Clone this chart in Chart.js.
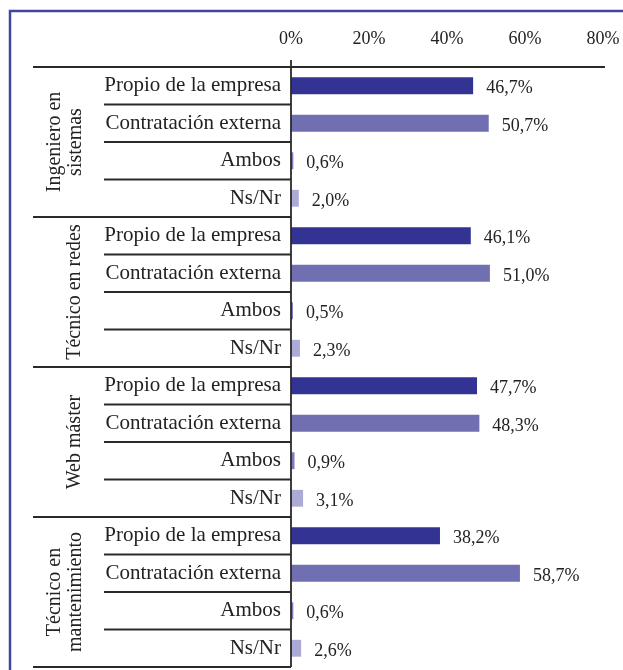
<!DOCTYPE html>
<html>
<head>
<meta charset="utf-8">
<script src="https://cdn.jsdelivr.net/npm/chart.js@4.4.1/dist/chart.umd.min.js"></script>
<style>
  html, body { margin: 0; padding: 0; background: #ffffff; }
  #wrap { position: relative; width: 623px; height: 670px; }
</style>
</head>
<body>
<div id="wrap"><canvas id="c" width="623" height="670"></canvas></div>
<script>
// ---- Data ----
const groups = [["Ingeniero en", "sistemas"], ["Técnico en redes"], ["Web máster"], ["Técnico en", "mantenimiento"]];
const subCategories = ["Propio de la empresa", "Contratación externa", "Ambos", "Ns/Nr"];
const propio = [46.7, 46.1, 47.7, 38.2];
const externa = [50.7, 51.0, 48.3, 58.7];
const ambos = [0.6, 0.5, 0.9, 0.6];
const nsnr = [2.0, 2.3, 3.1, 2.6];
const xTicks = [0, 20, 40, 60, 80];

const series = [propio, externa, ambos, nsnr];
const colors = ["#333394", "#6f6fb1", "#7d7dbd", "#ababd6"];

const labels = [];
groups.forEach(() => subCategories.forEach(s => labels.push(s)));

const datasets = series.map((vals, si) => {
  const data = [];
  groups.forEach((g, gi) => {
    subCategories.forEach((s, ci) => data.push(ci === si ? vals[gi] : null));
  });
  return {
    label: subCategories[si],
    data: data,
    backgroundColor: colors[si],
    borderWidth: 0,
    grouped: false,
    barPercentage: 0.45,
    categoryPercentage: 1.0
  };
});

const SERIF = "'Liberation Serif', 'DejaVu Serif', serif";
const TXT = "#222222";

const decorPlugin = {
  id: 'decor',
  beforeDraw(chart) {
    const ctx = chart.ctx;
    ctx.save();
    ctx.strokeStyle = "#4343a0";
    ctx.lineWidth = 2.5;
    ctx.beginPath();
    ctx.moveTo(10, 670);
    ctx.lineTo(10, 11);
    ctx.lineTo(623, 11);
    ctx.stroke();
    ctx.restore();
  },
  afterDatasetsDraw(chart) {
    const ctx = chart.ctx;
    const y = chart.scales.y;
    const x = chart.scales.x;
    const area = chart.chartArea;
    const n = labels.length;
    const rowH = (area.bottom - area.top) / n;
    ctx.save();
    ctx.strokeStyle = "#2a2a2a";
    ctx.lineWidth = 1.8;
    // top line
    ctx.beginPath();
    ctx.moveTo(33, area.top);
    ctx.lineTo(area.right + 2, area.top);
    ctx.stroke();
    // axis line
    ctx.beginPath();
    ctx.moveTo(area.left, area.top - 7);
    ctx.lineTo(area.left, area.bottom);
    ctx.stroke();
    // separators
    for (let i = 0; i < n; i++) {
      const yb = y.getPixelForValue(i) + rowH / 2;
      const isGroupEnd = (i % subCategories.length) === subCategories.length - 1;
      ctx.beginPath();
      ctx.moveTo(isGroupEnd ? 33 : 104, yb);
      ctx.lineTo(area.left, yb);
      ctx.stroke();
    }
    // group labels
    ctx.fillStyle = TXT;
    ctx.font = "20px " + SERIF;
    ctx.textAlign = "center";
    ctx.textBaseline = "middle";
    groups.forEach((g, gi) => {
      const first = gi * subCategories.length;
      const last = first + subCategories.length - 1;
      const yc = (y.getPixelForValue(first) + y.getPixelForValue(last)) / 2;
      const xs = g.length === 2 ? [55, 76] : [75];
      g.forEach((line, li) => {
        ctx.save();
        ctx.translate(xs[li], yc);
        ctx.rotate(-Math.PI / 2);
        ctx.fillText(line, 0, 0);
        ctx.restore();
      });
    });
    // data labels
    ctx.textAlign = "left";
    ctx.font = "18px " + SERIF;
    chart.data.datasets.forEach((ds, di) => {
      ds.data.forEach((v, i) => {
        if (v === null) return;
        const px = x.getPixelForValue(v) + 13;
        const py = y.getPixelForValue(i) + 3;
        ctx.fillText(v.toFixed(1).replace('.', ',') + '%', px, py);
      });
    });
    ctx.restore();
  }
};

new Chart(document.getElementById('c'), {
  type: 'bar',
  data: { labels: labels, datasets: datasets },
  options: {
    indexAxis: 'y',
    responsive: false,
    animation: false,
    layout: { padding: { left: 0, right: 20, top: 0, bottom: 3 } },
    plugins: { legend: { display: false }, tooltip: { enabled: false } },
    scales: {
      x: {
        position: 'top',
        min: 0,
        max: 80,
        afterBuildTicks(scale) { scale.ticks = xTicks.map(v => ({ value: v })); },
        afterFit(scale) {
          scale.height = 67;
          scale.paddingLeft = 0; scale.paddingRight = 0;
        },
        grid: { display: false, drawTicks: false },
        border: { display: false },
        ticks: {
          padding: 17,
          color: TXT,
          font: { family: SERIF, size: 18 },
          callback: v => v + '%'
        }
      },
      y: {
        afterFit(scale) {
          scale.width = 291;
          scale.paddingTop = 0; scale.paddingBottom = 0;
        },
        grid: { display: false, drawTicks: false },
        border: { display: false },
        ticks: {
          padding: 10,
          color: TXT,
          autoSkip: false,
          font: { family: SERIF, size: 21 }
        }
      }
    }
  },
  plugins: [decorPlugin]
});
</script>
</body>
</html>
